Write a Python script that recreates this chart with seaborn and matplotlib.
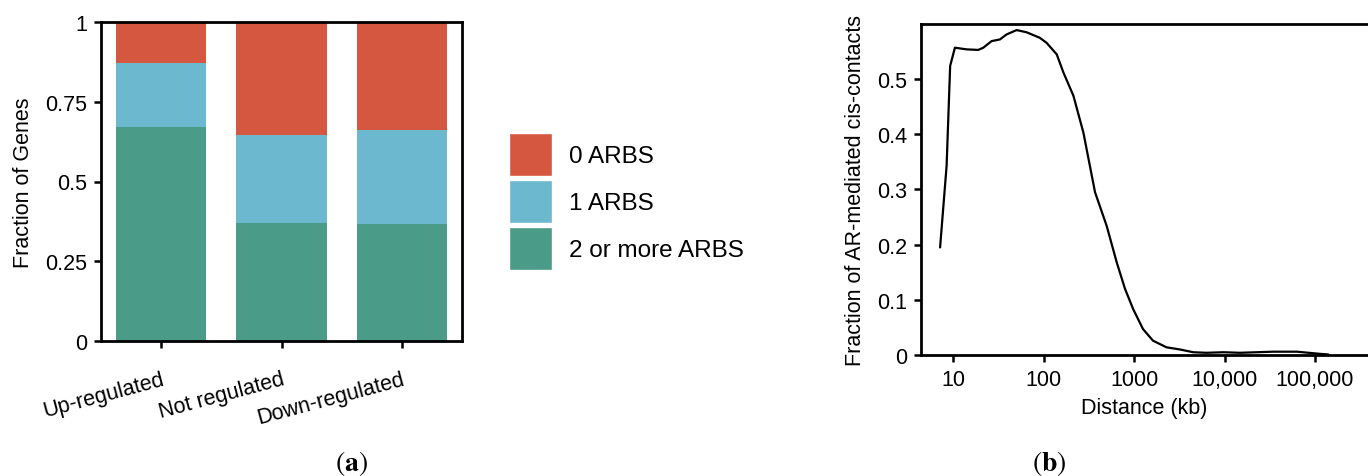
import matplotlib
matplotlib.use("Agg")
import matplotlib.pyplot as plt
import seaborn as sns
import pandas as pd
from matplotlib.patches import Patch
from matplotlib.ticker import FixedLocator, NullLocator

sns.set_theme(style="ticks")
plt.rcParams["font.family"] = ["Liberation Sans", "DejaVu Sans"]
plt.rcParams["mathtext.fontset"] = "stix"
plt.rcParams["text.color"] = "black"
plt.rcParams["axes.labelcolor"] = "black"
plt.rcParams["xtick.color"] = "black"
plt.rcParams["ytick.color"] = "black"

# panel (a): fraction of genes by ARBS count
groups = ["Up-regulated", "Not regulated", "Down-regulated"]
two_or_more = [0.670, 0.370, 0.367]
one_arbs = [0.201, 0.276, 0.294]
zero_arbs = [0.129, 0.354, 0.339]
legend_labels = ["0 ARBS", "1 ARBS", "2 or more ARBS"]
colors = ["#D6573F", "#6CB8CF", "#4A9B87"]

# panel (b): fraction of AR-mediated cis-contacts vs distance (kb)
distance_kb = [7.2, 8.5, 9.3, 10.5, 14.2, 19, 21.6, 26.7, 33, 39, 50.5, 65, 91, 108,
               140, 166, 214, 276, 371, 499, 644, 795, 980, 1257, 1620, 2280, 3220,
               4520, 6300, 9700, 14800, 34500, 63000, 115000, 140000]
contact_frac = [0.195, 0.343, 0.524, 0.557, 0.554, 0.553, 0.557, 0.569, 0.572, 0.581,
                0.589, 0.585, 0.575, 0.566, 0.545, 0.512, 0.470, 0.403, 0.295, 0.234,
                0.168, 0.120, 0.083, 0.047, 0.026, 0.014, 0.010, 0.005, 0.004, 0.005,
                0.004, 0.006, 0.006, 0.002, 0.001]

df = pd.DataFrame({"group": groups, "two": two_or_more, "one": one_arbs, "zero": zero_arbs})
df["top"] = df["two"] + df["one"] + df["zero"]
df["mid"] = df["two"] + df["one"]

FS = 15.5

fig = plt.figure(figsize=(13.68, 4.77), dpi=100)
ax1 = fig.add_axes([101 / 1368, 1 - 342 / 477, 361 / 1368, 319 / 477])
ax2 = fig.add_axes([921 / 1368, 1 - 356 / 477, 447 / 1368, 331 / 477])

# stacked bars, drawn from the top layer down
for col, c in zip(["top", "mid", "two"], colors):
    sns.barplot(data=df, x="group", y=col, color=c, width=0.75, ax=ax1,
                saturation=1, edgecolor="none")
ax1.set_xlim(-0.5, 2.5)
ax1.set_ylim(0, 1)
ax1.set_yticks([0, 0.25, 0.5, 0.75, 1])
ax1.set_yticklabels(["0", "0.25", "0.5", "0.75", "1"], fontsize=FS)
ax1.set_xlabel("")
ax1.set_ylabel("Fraction of Genes", fontsize=FS, labelpad=8)
plt.setp(ax1.get_xticklabels(), rotation=15, ha="right", rotation_mode="anchor", fontsize=FS)
for s in ax1.spines.values():
    s.set_linewidth(2)
    s.set_color("black")
ax1.tick_params(width=1.8, length=5, color="black", pad=5)
ax1.tick_params(axis="x", pad=15)

# square swatches, 43 px on a side
handles = [Patch(facecolor=c, edgecolor="white", linewidth=1) for c in colors]
fig.legend(handles, legend_labels, loc="upper left", bbox_to_anchor=(509 / 1368, 1 - 134 / 477),
           frameon=False, fontsize=17.5, handlelength=1.77, handleheight=2.35,
           labelspacing=0.16, handletextpad=0.7, borderpad=0, borderaxespad=0)

sns.lineplot(x=distance_kb, y=contact_frac, color="black", linewidth=1.6, ax=ax2)
ax2.set_xscale("log")
ax2.set_xlim(4.43, 385000)
ax2.set_ylim(0, 0.6)
ax2.xaxis.set_major_locator(FixedLocator([10, 100, 1000, 10000, 100000]))
ax2.xaxis.set_minor_locator(NullLocator())
ax2.set_xticklabels(["10", "100", "1000", "10,000", "100,000"], fontsize=FS)
ax2.set_yticks([0, 0.1, 0.2, 0.3, 0.4, 0.5])
ax2.set_yticklabels(["0", "0.1", "0.2", "0.3", "0.4", "0.5"], fontsize=FS)
ax2.set_xlabel("Distance (kb)", fontsize=FS, labelpad=5)
ax2.set_ylabel("Fraction of AR-mediated cis-contacts", fontsize=FS, labelpad=8)
ax2.spines["right"].set_visible(False)
for s in ["top", "left", "bottom"]:
    ax2.spines[s].set_linewidth(2)
    ax2.spines[s].set_color("black")
ax2.tick_params(width=1.8, length=5, color="black", pad=5)

fig.text(351 / 1368, 1 - 464 / 477, r"$(\mathbf{a})$", ha="center", va="center", fontsize=20)
fig.text(1049 / 1368, 1 - 464 / 477, r"$(\mathbf{b})$", ha="center", va="center", fontsize=20)

fig.savefig("out.png", dpi=100)
